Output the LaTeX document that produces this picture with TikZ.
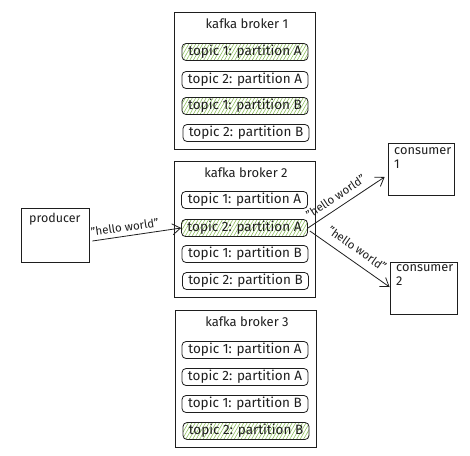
\documentclass[tikz,border=0pt]{standalone}
\usepackage{fontspec}
\setmainfont{Fira Sans}
\usetikzlibrary{arrows.meta,patterns.meta}
\definecolor{hatch}{HTML}{8DBF5E}
\definecolor{ink}{HTML}{1E1E1E}
\tikzset{
  broker/.style={draw=ink, line width=0.8pt, minimum width=141pt, minimum height=137pt, inner sep=0pt},
  title/.style={font=\fontsize{13}{14}\selectfont, text=ink, inner sep=0pt},
  part/.style={draw=ink, rounded corners=4pt, line width=0.8pt, minimum width=126pt, minimum height=17pt, inner sep=0pt, font=\fontsize{13.5}{14}\selectfont, text=ink},
  hot/.style={part, pattern={Lines[angle=60,distance=3pt,line width=0.6pt]}, pattern color=hatch},
  client/.style={draw=ink, line width=0.8pt, inner sep=0pt},
  ctext/.style={font=\fontsize{12.5}{14.5}\selectfont, text=ink, align=left, inner sep=0pt},
  cons/.style={ctext, font=\fontsize{12.8}{14.5}\selectfont},
  msg/.style={-{Straight Barb[length=8pt,width=11pt,line width=0.8pt]}, draw=ink, line width=0.8pt},
  lbl/.style={font=\fontsize{11.5}{12}\selectfont, text=ink, sloped, inner sep=0pt}
}
\begin{document}
\begin{tikzpicture}[x=1pt,y=-1pt]
\useasboundingbox (0,0) rectangle (470,455);
% broker 1
\node[broker] (b1) at (245,81) {};
\node[title] (b1t) at (247,24) {kafka broker 1};
\node[hot]  (b1p1) at (245,52)  {topic 1: partition A};
\node[part] (b1p2) at (245,80)  {topic 2: partition A};
\node[hot]  (b1p3) at (245,106) {topic 1: partition B};
\node[part] (b1p4) at (246,133) {topic 2: partition B};
% broker 2
\node[broker, minimum height=136pt] (b2) at (244.5,229) {};
\node[title] (b2t) at (246,173) {kafka broker 2};
\node[part] (b2p1) at (244.5,200) {topic 1: partition A};
\node[hot]  (b2p2) at (244.5,228) {topic 2: partition A};
\node[part] (b2p3) at (245,254)   {topic 1: partition B};
\node[part] (b2p4) at (245.5,281) {topic 2: partition B};
% broker 3
\node[broker] (b3) at (245.5,378.5) {};
\node[title] (b3t) at (247,322) {kafka broker 3};
\node[part] (b3p1) at (245,350) {topic 1: partition A};
\node[part] (b3p2) at (245,377) {topic 2: partition A};
\node[part] (b3p3) at (245,404) {topic 1: partition B};
\node[hot]  (b3p4) at (246,431) {topic 2: partition B};
% producer and consumers
\node[client, minimum width=68pt, minimum height=54pt] (prod) at (55,235) {};
\node[ctext, anchor=west] (prodt) at (29,219) {producer};
\node[client, minimum width=66pt, minimum height=52pt] (c1) at (421,169) {};
\node[cons, anchor=north west] (c1t) at (394,147) {consumer\\1};
\node[client, minimum width=67pt, minimum height=52pt] (c2) at (423.5,288) {};
\node[cons, anchor=north west] (c2t) at (396,264) {consumer\\2};
% messages
\draw[msg] ([shift={(3,6)}]prod.east) -- (b2p2.west)
  node[lbl, pos=0.38, above=4pt] (l1) {"hello world"};
\draw[msg] (b2p2.east) -- ([shift={(-3,8)}]c1.west)
  node[lbl, pos=0.44, above=6pt] (l2) {"hello world"};
\draw[msg] ([shift={(2,3)}]b2p2.east) -- ([shift={(0,-1)}]c2.west)
  node[lbl, pos=0.5, above=8pt] (l3) {"hello world"};
\end{tikzpicture}
\end{document}
